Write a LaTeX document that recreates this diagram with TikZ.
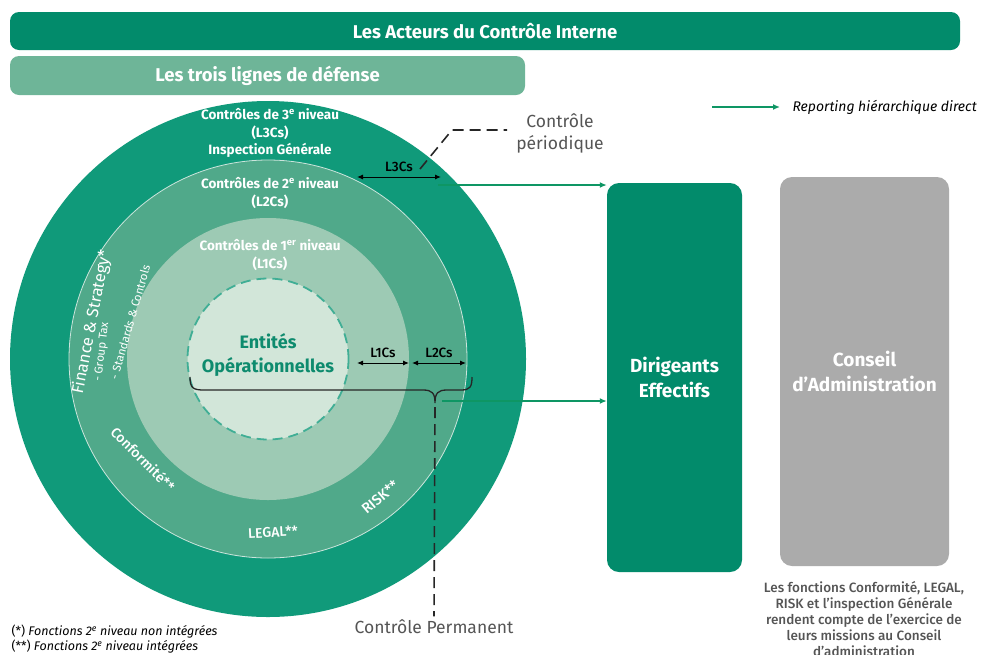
\documentclass[tikz,border=0pt]{standalone}
\usepackage{fontspec}
\setmainfont{Fira Sans}
\newfontfamily\firamed{Fira Sans Medium}
\usetikzlibrary{arrows.meta,calc,positioning}
\definecolor{cdark}{RGB}{2,139,107}
\definecolor{cring3}{RGB}{16,154,122}
\definecolor{cring2}{RGB}{80,169,138}
\definecolor{cring1}{RGB}{157,202,180}
\definecolor{ccore}{RGB}{210,230,217}
\definecolor{csub}{RGB}{110,181,152}
\definecolor{cgrey}{RGB}{171,171,171}
\definecolor{crep}{RGB}{14,150,100}
\definecolor{cnote}{RGB}{85,85,85}
\tikzset{
  banner/.style={rectangle,rounded corners=9pt,draw=none,text=white,
    minimum height=38pt,font=\fontsize{18.5}{20}\selectfont\bfseries},
  bigbox/.style={rectangle,rounded corners=12pt,draw=none,text=white,
    minimum height=389pt,align=center,
    font=\fontsize{19}{24.5}\selectfont\bfseries},
  ring/.style={circle,draw=none,inner sep=0pt},
  ringlab/.style={text=white,align=center,
    font=\fontsize{13.5}{17.5}\selectfont\bfseries},
  funclab/.style={text=white,inner sep=1pt},
  gaplab/.style={font=\fontsize{13.5}{15}\selectfont\firamed},
  gap/.style={{Latex[length=6pt,width=5pt]}-{Latex[length=6pt,width=5pt]},
    line width=1pt},
  report/.style={-{Latex[length=7pt,width=6pt]},line width=2pt,crep},
  ctrllab/.style={text=cnote,align=center,font=\fontsize{17.5}{22}\selectfont},
  guide/.style={dash pattern=on 11pt off 6pt,line width=1.6pt,black!85}
}
\begin{document}
\begin{tikzpicture}[x=1pt,y=-1pt]
  \useasboundingbox (0,0) rectangle (982,654);
  % headers
  \node[banner,fill=cdark,minimum width=950pt] (title) at (485,31)
    {Les Acteurs du Contrôle Interne};
  \node[banner,fill=csub,minimum width=515pt,minimum height=39pt] (lines)
    at (267.5,75.5) {Les trois lignes de défense};
  % legend
  \coordinate (legstart) at (712,107);
  \coordinate (legend) at (780,107);
  \draw[report] (legstart) -- (legend);
  \node[anchor=west,font=\fontsize{14}{16}\selectfont\itshape] (legtext)
    at (789,107) {Reporting hiérarchique direct};
  % the three lines of defence
  \node[ring,fill=cring3,minimum size=516pt] (l3) at (268,359) {};
  \node[ring,fill=cring2,draw=white!70!cring2,line width=0.8pt,
    minimum size=398pt] (l2) at (268,359) {};
  \node[ring,fill=cring1,minimum size=282pt] (l1) at (268,359) {};
  \node[ring,fill=ccore,draw=cring3!80,line width=1.8pt,
    dash pattern=on 10pt off 6pt,minimum size=161pt] (core) at (268,359) {};
  \node[ringlab] (t3) at (270,133)
    {Contrôles de 3\textsuperscript{e} niveau\\(L3Cs)\\Inspection Générale};
  \node[ringlab] (t2) at (270,193)
    {Contrôles de 2\textsuperscript{e} niveau\\(L2Cs)};
  \node[ringlab] (t1) at (270,255)
    {Contrôles de 1\textsuperscript{er} niveau\\(L1Cs)};
  \node[align=center,text=cring3!90!black,
    font=\fontsize{18}{24}\selectfont\bfseries] (ent) at (268,355)
    {Entités\\Opérationnelles};
  % second line functions
  \node[funclab,rotate=79,font=\fontsize{16.5}{18}\selectfont] (fin)
    at (92,322) {Finance \& Strategy*};
  \node[funclab,rotate=83,font=\fontsize{11.5}{13}\selectfont] (tax)
    at (102,352) {- Group Tax};
  \node[funclab,rotate=74,font=\fontsize{11.5}{13}\selectfont] (std)
    at (130,322) {- Standards \& Controls};
  \node[funclab,rotate=-45,font=\fontsize{14}{16}\selectfont\firamed] (conf)
    at (143,459) {Conformité**};
  \node[funclab,rotate=3,font=\fontsize{14}{16}\selectfont\firamed] (legal)
    at (273,532) {LEGAL**};
  \node[funclab,rotate=40,font=\fontsize{14.5}{16}\selectfont\firamed] (risk)
    at (380,497) {RISK**};
  % widths of the lines
  \coordinate (a3l) at (357,177);
  \coordinate (a3r) at (441,177);
  \draw[gap] (a3l) -- (a3r) node[midway,above=1pt,gaplab] {L3Cs};
  \coordinate (a1l) at (357,363);
  \coordinate (a1r) at (409,363);
  \coordinate (a2l) at (412,363);
  \coordinate (a2r) at (466,363);
  \draw[gap] (a1l) -- (a1r) node[midway,above=1pt,gaplab] {L1Cs};
  \draw[gap] (a2l) -- (a2r) node[midway,above=1pt,gaplab] {L2Cs};
  % periodic control
  \node[ctrllab] (per) at (560,133) {Contrôle\\périodique};
  \coordinate (perfoot) at (420,169);
  \coordinate (perknee) at (452,130);
  \coordinate (perend) at (507,130);
  \draw[guide] (perfoot) -- (perknee) -- (perend);
  % permanent control brace
  \coordinate (brtip) at (435,403);
  \draw[line width=1.3pt,black!85]
    (190,377) .. controls (190,388) and (193,390) .. (204,390) -- (423,390)
    .. controls (432,390) and (435,393) .. (brtip)
    .. controls (435,393) and (438,390) .. (447,390) -- (461,390)
    .. controls (470,390) and (472,387) .. (472,377);
  \node[ctrllab] (perm) at (434,627) {Contrôle Permanent};
  \draw[guide] ($(brtip)+(0,4)$) -- (perm.north);
  % management bodies
  \node[bigbox,fill=cdark,minimum width=135pt] (dir) at (674.5,377.5)
    {Dirigeants\\Effectifs};
  \node[bigbox,fill=cgrey,minimum width=169pt] (cons) at (864.5,371.5)
    {Conseil\\d’Administration};
  \coordinate (rep3) at (438,185);
  \coordinate (rep2) at (442,401);
  \draw[report] (rep3) -- (rep3 -| dir.west);
  \draw[report] (rep2) -- (rep2 -| dir.west);
  \node[anchor=north,align=center,text=cnote,
    font=\fontsize{13.5}{16}\selectfont\firamed] (cnotes) at (864,578)
    {Les fonctions Conformité, LEGAL,\\RISK et l’inspection Générale\\
     rendent compte de l’exercice de\\leurs missions au Conseil\\
     d’administration};
  % footnotes
  \node[anchor=west,font=\fontsize{12.5}{14}\selectfont] (fn1) at (8,632)
    {(*) \textit{Fonctions 2\textsuperscript{e} niveau non intégrées}};
  \node[anchor=west,font=\fontsize{12.5}{14}\selectfont] (fn2) at (8,647)
    {(**) \textit{Fonctions 2\textsuperscript{e} niveau intégrées}};
\end{tikzpicture}
\end{document}
